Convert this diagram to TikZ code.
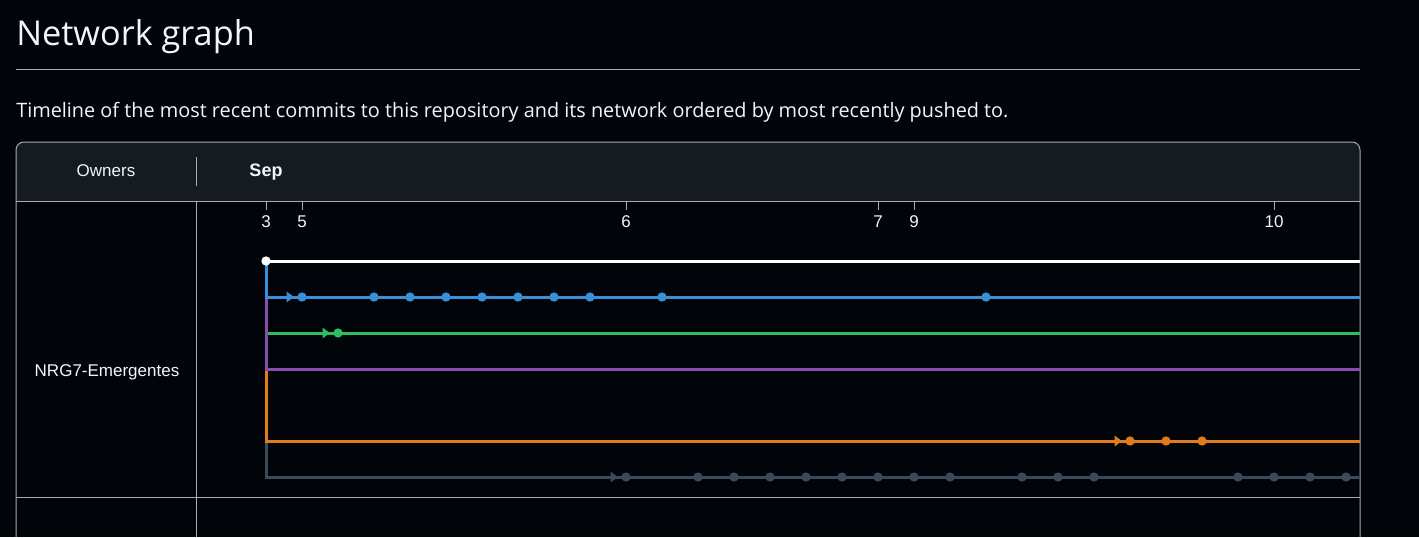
\documentclass[tikz,border=0pt]{standalone}
\usepackage{fontspec}
\setmainfont{Liberation Sans}
\newfontfamily\uifont{Open Sans}
\usetikzlibrary{arrows.meta}
\definecolor{Page}{HTML}{010409}
\definecolor{Head}{HTML}{161B22}
\definecolor{Frame}{HTML}{A3ABB5}
\definecolor{Ink}{HTML}{F0F6FC}
\definecolor{Blue}{HTML}{3B8FD8}
\definecolor{Green}{HTML}{2EBD60}
\definecolor{Purple}{HTML}{8B4BAE}
\definecolor{Orange}{HTML}{E07B1E}
\definecolor{Slate}{HTML}{3A4A5C}
\tikzset{
  branch/.style={line width=2.25pt,draw=#1},
  commit/.style={circle,fill=#1,inner sep=0pt,minimum size=7pt},
  fork/.style={-{Triangle[length=5.6pt,width=7.8pt]},line width=2.25pt,draw=#1},
  celltext/.style={inner sep=0pt,text=Ink,font=\fontsize{12.75}{15}\selectfont},
  framerule/.style={draw=Frame,line width=0.75pt}
}
\begin{document}
\begin{tikzpicture}[x=0.75pt,y=-0.75pt]
  \useasboundingbox[fill=Page] (0,0) rectangle (1419,537);
  % heading
  \node[anchor=base west,inner sep=0pt,text=Ink,font=\uifont\fontsize{25.7}{30}\selectfont] (title) at (16,45) {Network graph};
  \draw[framerule] (16,69) -- (1360,69);
  \node[anchor=base west,inner sep=0pt,text=Ink,font=\uifont\fontsize{14.9}{18}\selectfont] (intro) at (16,117) {Timeline of the most recent commits to this repository and its network ordered by most recently pushed to.};
  % table
  \fill[Head,rounded corners=6pt] (16,142) rectangle (1360,230);
  \fill[Page] (16,201) rectangle (1360,537);
  \draw[framerule,rounded corners=6pt] (16,537) -- (16,142) -- (1360,142) -- (1360,537);
  \draw[framerule] (16,201) -- (1360,201);
  \draw[framerule] (16,497) -- (1360,497);
  \draw[framerule] (196,157) -- (196,186);
  \draw[framerule] (196,201) -- (196,537);
  \node[celltext] (owners) at (106,171) {Owners};
  \node[celltext,font=\bfseries\fontsize{13.5}{16}\selectfont] (month) at (266,172) {Sep};
  \node[celltext] (owner) at (107,372) {NRG7-Emergentes};
  % days
  \foreach \k/\d in {0/3,1/5,10/6,17/7,18/9,28/10} {
    \draw[framerule] ({266+36*\k},201) -- ++(0,9);
    \node[celltext] (day\d) at ({266+36*\k},222) {\d};
  }
  % branches
  \coordinate (root) at (266,261);
  \foreach \tip/\col/\row in {gray/Slate/477,orange/Orange/441,green/Green/333,purple/Purple/369,blue/Blue/297} {
    \coordinate (\tip end) at (1360,\row);
    \draw[branch=\col] (root) |- (\tip end);
  }
  \coordinate (main end) at (1360,261);
  \draw[branch=white] (root) -- (main end);
  % commits
  \foreach \k in {1,3,4,5,6,7,8,9,11,20}
    \node[commit=Blue] (blue\k) at ({266+36*\k},297) {};
  \node[commit=Green] (green2) at ({266+36*2},333) {};
  \foreach \k in {24,25,26}
    \node[commit=Orange] (orange\k) at ({266+36*\k},441) {};
  \foreach \k in {10,12,13,14,15,16,17,18,19,21,22,23,27,28,29,30}
    \node[commit=Slate] (gray\k) at ({266+36*\k},477) {};
  \node[commit=white] (root dot) at (root) {};
  % fork marks
  \foreach \col/\first in {Blue/blue1,Green/green2,Orange/orange24,Slate/gray10}
    \draw[fork=\col] ([xshift=-11.25pt]\first.center) -- ([xshift=-6pt]\first.center);
\end{tikzpicture}
\end{document}
